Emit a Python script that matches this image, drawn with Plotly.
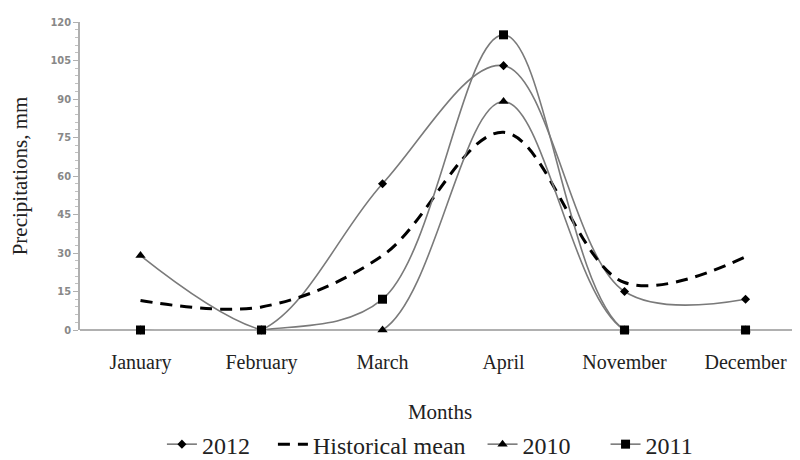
import plotly.graph_objects as go

months = ["January", "February", "March", "April", "November", "December"]
y2012 = [0, 0, 57, 103, 15, 12]
hist_mean = [11.5, 9, 29, 77, 18.5, 28.5]
y2010 = [29, 0, 0, 89, 0, 0]
y2011 = [0, 0, 12, 115, 0, 0]
y_ticks = [0, 15, 30, 45, 60, 75, 90, 105, 120]
names = ["2012\u00a0\u00a0\u00a0", "Historical mean\u00a0\u00a0", "2010\u00a0\u00a0\u00a0\u00a0\u00a0", "2011"]

line_col = "#7a7a7a"
fig = go.Figure()
fig.add_trace(go.Scatter(x=months, y=y2012, name=names[0], mode="lines+markers",
                         line=dict(color=line_col, width=1.6, shape="spline", smoothing=1),
                         marker=dict(symbol="diamond", size=7, color="black"), cliponaxis=False))
fig.add_trace(go.Scatter(x=months, y=hist_mean, name=names[1], mode="lines",
                         line=dict(color="black", width=3, dash="12px,8px", shape="spline", smoothing=1),
                         cliponaxis=False))
fig.add_trace(go.Scatter(x=months, y=y2010, name=names[2], mode="lines+markers",
                         line=dict(color=line_col, width=1.6, shape="spline", smoothing=1),
                         marker=dict(symbol="triangle-up", size=9, color="black"), cliponaxis=False))
fig.add_trace(go.Scatter(x=months, y=y2011, name=names[3], mode="lines+markers",
                         line=dict(color=line_col, width=1.6, shape="spline", smoothing=1),
                         marker=dict(symbol="square", size=9, color="black"), cliponaxis=False))

fig.update_layout(
    width=792, height=452,
    margin=dict(l=72, r=0, t=14, b=130, autoexpand=False),
    paper_bgcolor="white", plot_bgcolor="white",
    font=dict(family="Liberation Serif", color="#222"),
    legend=dict(orientation="h", x=0.486, xanchor="center", y=-0.445, yanchor="bottom",
                font=dict(family="Liberation Serif", size=24, color="#222"),
                itemwidth=30, tracegroupgap=0),
    xaxis=dict(range=[-0.5, 5.45], showgrid=False, zeroline=False, automargin=False,
               showline=False, ticks="", ticklabelstandoff=18,
               tickfont=dict(family="Liberation Serif", size=20, color="#222"),
               title=dict(text="Months", standoff=31, font=dict(family="Liberation Serif", size=21, color="#222"))),
    yaxis=dict(range=[0, 120], tickvals=y_ticks, showgrid=False, zeroline=True, zerolinecolor="#b0b0b0",
               zerolinewidth=1.5, automargin=False,
               showline=True, linecolor="#b0b0b0", linewidth=1.5, ticks="outside", ticklen=5,
               tickcolor="#b0b0b0",
               minor=dict(dtick=3, ticks="outside", ticklen=3, tickcolor="#c0c0c0"),
               tickfont=dict(family="DejaVu Sans Condensed", size=11, color="#888", weight="bold"),
               title=dict(text="Precipitations, mm", standoff=26,
                          font=dict(family="Liberation Serif", size=21, color="#222"))),
)
fig.write_html("out.html")
